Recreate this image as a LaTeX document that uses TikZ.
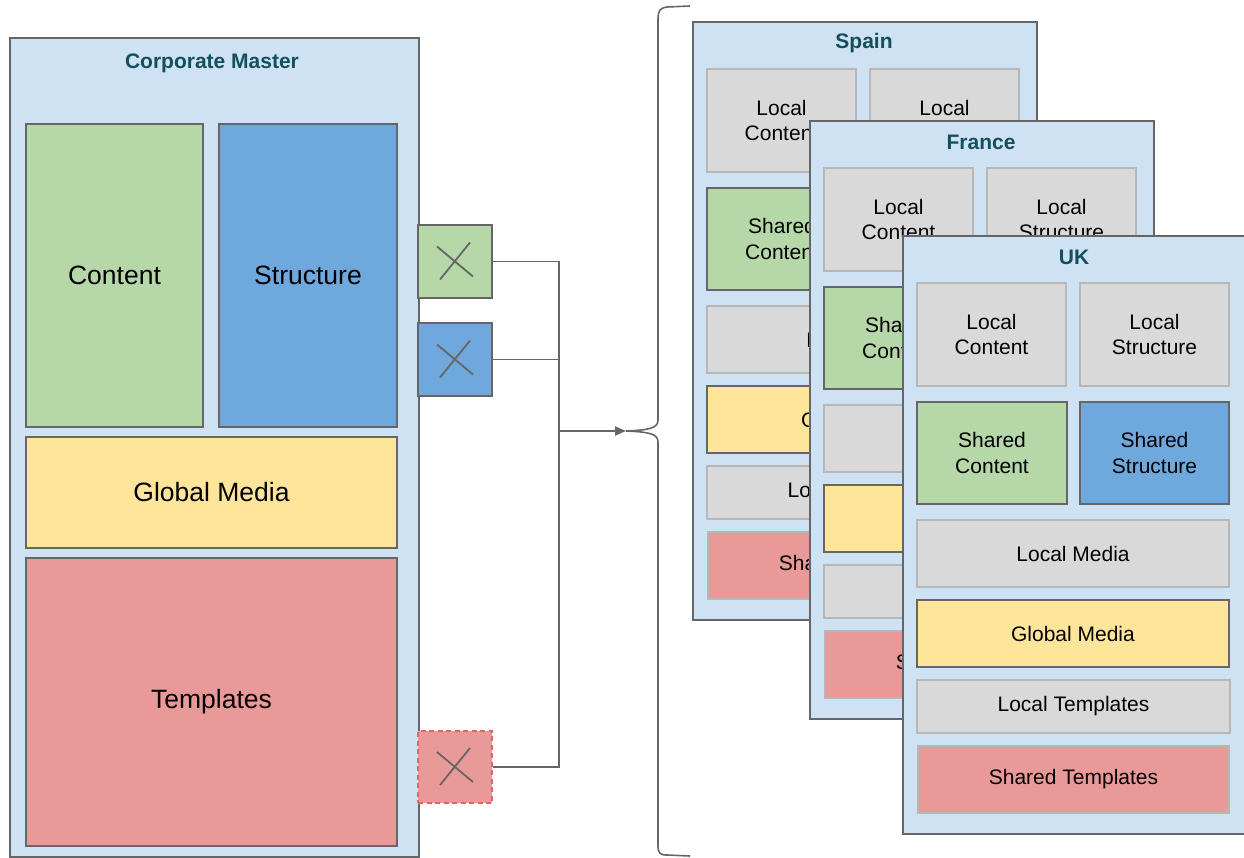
\documentclass[tikz,border=0pt]{standalone}
\usepackage{fontspec}
\setmainfont{Liberation Sans}
\usetikzlibrary{arrows.meta}

\definecolor{panelfill}{HTML}{CFE2F3}
\definecolor{darkedge}{HTML}{666666}
\definecolor{lightedge}{HTML}{B7B7B7}
\definecolor{greyfill}{HTML}{D9D9D9}
\definecolor{greenfill}{HTML}{B6D7A8}
\definecolor{bluefill}{HTML}{6FA8DC}
\definecolor{yellowfill}{HTML}{FFE599}
\definecolor{redfill}{HTML}{EA9999}
\definecolor{reddash}{HTML}{E06666}
\definecolor{titleteal}{HTML}{134F5C}

\begin{document}
\begin{tikzpicture}[x=1pt, y=-1pt,
    panel/.style={draw=darkedge, fill=panelfill, line width=1.5pt, minimum width=344pt, minimum height=598pt, anchor=north west, inner sep=0pt},
    paneltitle/.style={text=titleteal, font=\fontsize{21}{25}\selectfont\bfseries},
    box/.style={draw=darkedge, line width=1.4pt, inner sep=0pt, align=center, font=\fontsize{21}{25.5}\selectfont},
    localbox/.style={box, draw=lightedge, fill=greyfill},
    bigbox/.style={box, font=\fontsize{26.5}{31}\selectfont},
    xbox/.style={draw=darkedge, line width=1.4pt, minimum width=74pt, minimum height=73pt, inner sep=0pt},
    xline/.style={draw=darkedge, line width=1.8pt},
    link/.style={draw=darkedge, line width=1.6pt},
    feed/.style={draw=darkedge, line width=2pt, -{Triangle[length=11pt, width=9pt]}}]

    \useasboundingbox (0,0) rectangle (1244,857);

    % Draw the corporate master
    \node[panel, minimum width=409pt, minimum height=819pt] (master) at (9,37) {};
    \node[paneltitle] (master-title) at (212,63) {Corporate Master};
    \node[bigbox, fill=greenfill, minimum width=177pt, minimum height=303pt] (content) at (114.5,275.5) {Content};
    \node[bigbox, fill=bluefill, minimum width=178pt, minimum height=303pt] (structure) at (308,275.5) {Structure};
    \node[bigbox, fill=yellowfill, minimum width=371pt, minimum height=111pt] (media) at (211.5,492.5) {Global Media};
    \node[bigbox, fill=redfill, minimum width=371pt, minimum height=288pt] (templates) at (211.5,702) {Templates};

    % Draw the crossed boxes
    \node[xbox, fill=greenfill] (xgreen) at (455,261.5) {};
    \node[xbox, fill=bluefill] (xblue) at (455,359.5) {};
    \node[xbox, fill=redfill, draw=reddash, dash pattern=on 5pt off 3.5pt, minimum height=72pt] (xred) at (455,767) {};
    \foreach \b in {xgreen,xblue,xred}
        \draw[xline] (\b) +(-18,-15) -- +(18,15) (\b) +(-15,18) -- +(15,-19);

    % Draw the connectors
    \coordinate (join) at (559,431);
    \coordinate (bracetip) at (626,431);
    \draw[link] (xgreen.east) -| (join);
    \draw[link] (xblue.east) -| (join);
    \draw[link] (xred.east) -| (join);
    \draw[feed] (join) -- (bracetip);

    % Draw the brace
    \draw[link] (690,6) -- (667,7) .. controls (660,8) and (658,11) .. (658,18) -- (658,420)
        .. controls (658,428) and (650,430) .. (bracetip)
        .. controls (650,432) and (658,434) .. (658,442) -- (658,846)
        .. controls (658,853) and (660,855) .. (667,855) -- (690,856);

    % Draw the country panels
    \foreach \n/\t/\px/\py in {spain/Spain/692/21, france/France/809/120, uk/UK/902/235} {
        \begin{scope}[shift={(\px,\py)}]
            \node[panel] (\n) at (0,0) {};
            \node[paneltitle] (\n-title) at (172,22) {\t};
            \node[localbox, minimum width=149pt, minimum height=103pt] (\n-lc) at (89.5,99.5) {Local\\Content};
            \node[localbox, minimum width=149pt, minimum height=103pt] (\n-ls) at (252.5,99.5) {Local\\Structure};
            \node[box, fill=greenfill, minimum width=150pt, minimum height=102pt] (\n-sc) at (90,218) {Shared\\Content};
            \node[box, fill=bluefill, minimum width=149pt, minimum height=102pt] (\n-ss) at (252.5,218) {Shared\\Structure};
            \node[localbox, minimum width=312pt, minimum height=67pt] (\n-lm) at (171,318.5) {Local Media};
            \node[box, fill=yellowfill, minimum width=312pt, minimum height=67pt] (\n-gm) at (171,398.5) {Global Media};
            \node[localbox, minimum width=313pt, minimum height=53pt] (\n-lt) at (171.5,471.5) {Local Templates};
            \node[box, draw=lightedge, fill=redfill, minimum width=311pt, minimum height=67pt] (\n-st) at (171.5,544.5) {Shared Templates};
        \end{scope}
    }
\end{tikzpicture}
\end{document}
